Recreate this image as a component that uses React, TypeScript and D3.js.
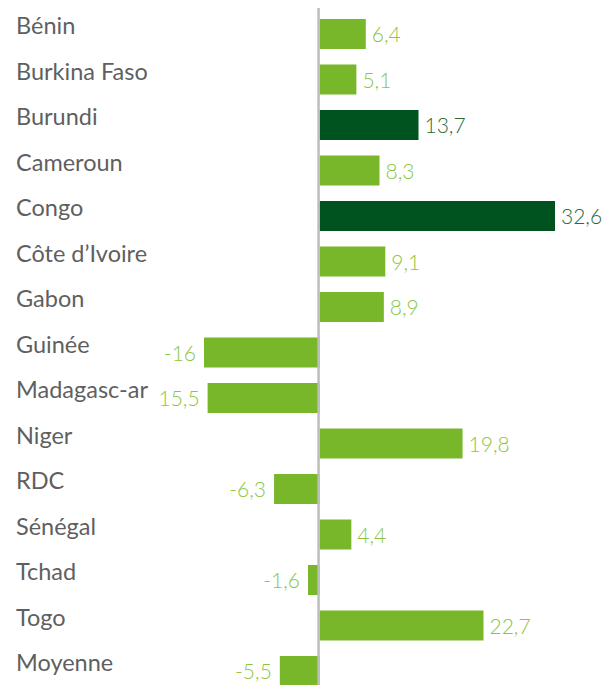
import React, { useEffect, useRef } from 'react';
import * as d3 from 'd3';

const countries = [
  "Bénin", "Burkina Faso", "Burundi", "Cameroun", "Congo", "Côte d’Ivoire", "Gabon",
  "Guinée", "Madagasc-ar", "Niger", "RDC", "Sénégal", "Tchad", "Togo", "Moyenne"
];
const values = [6.4, 5.1, 13.7, 8.3, 32.6, 9.1, 8.9, -16, -15.5, 19.8, -6.3, 4.4, -1.6, 22.7, -5.5];
// labels as printed on the chart (the minus of Madagascar is lost in the original)
const valueLabels = ["6,4", "5,1", "13,7", "8,3", "32,6", "9,1", "8,9", "-16", "15,5", "19,8", "-6,3", "4,4", "-1,6", "22,7", "-5,5"];
const highlighted = ["Burundi", "Congo"];

const App: React.FC = () => {
  const svgRef = useRef<SVGSVGElement>(null);

  useEffect(() => {
    if (!svgRef.current) return;
    document.body.style.margin = "0";

    const svg = d3.select(svgRef.current);
    svg.selectAll("*").remove();

    const x = d3.scaleLinear().domain([-16, 32.6]).range([204, 555]);
    const y = d3.scalePoint<string>().domain(countries).range([34, 671]);
    const barH = 30;
    const light = "#78b72a";
    const dark = "#00521f";

    const rows = svg.selectAll(".row")
      .data(countries)
      .enter()
      .append("g")
      .attr("class", "row");

    rows.append("text")
      .attr("x", 16)
      .attr("y", d => y(d)!)
      .attr("fill", "#5f5f5f")
      .attr("font-size", "23.5px")
      .attr("font-family", "Lato, 'Open Sans', sans-serif")
      .text(d => d);

    rows.append("rect")
      .attr("x", (_d, i) => x(Math.min(0, values[i])))
      .attr("y", d => y(d)! - barH / 2)
      .attr("width", (_d, i) => Math.abs(x(values[i]) - x(0)))
      .attr("height", barH)
      .attr("fill", d => highlighted.includes(d) ? dark : light);

    rows.append("text")
      .attr("x", (_d, i) => values[i] >= 0 ? x(values[i]) + 6 : x(values[i]) - 8)
      .attr("y", d => y(d)! + 8)
      .attr("text-anchor", (_d, i) => values[i] >= 0 ? "start" : "end")
      .attr("fill", d => highlighted.includes(d) ? "#2a6a3a" : "#8cc63f")
      .attr("font-size", "21px")
      .attr("font-weight", 300)
      .attr("font-family", "Lato, 'Open Sans', sans-serif")
      .text((_d, i) => valueLabels[i]);

    svg.append("line")
      .attr("x1", x(0) - 1)
      .attr("x2", x(0) - 1)
      .attr("y1", 8)
      .attr("y2", 685)
      .attr("stroke", "#bdbdbd")
      .attr("stroke-width", 2.5);
  }, []);

  return (
    <svg ref={svgRef} width={604} height={685} style={{ display: 'block', background: '#fff' }}></svg>
  );
};

export default App;
